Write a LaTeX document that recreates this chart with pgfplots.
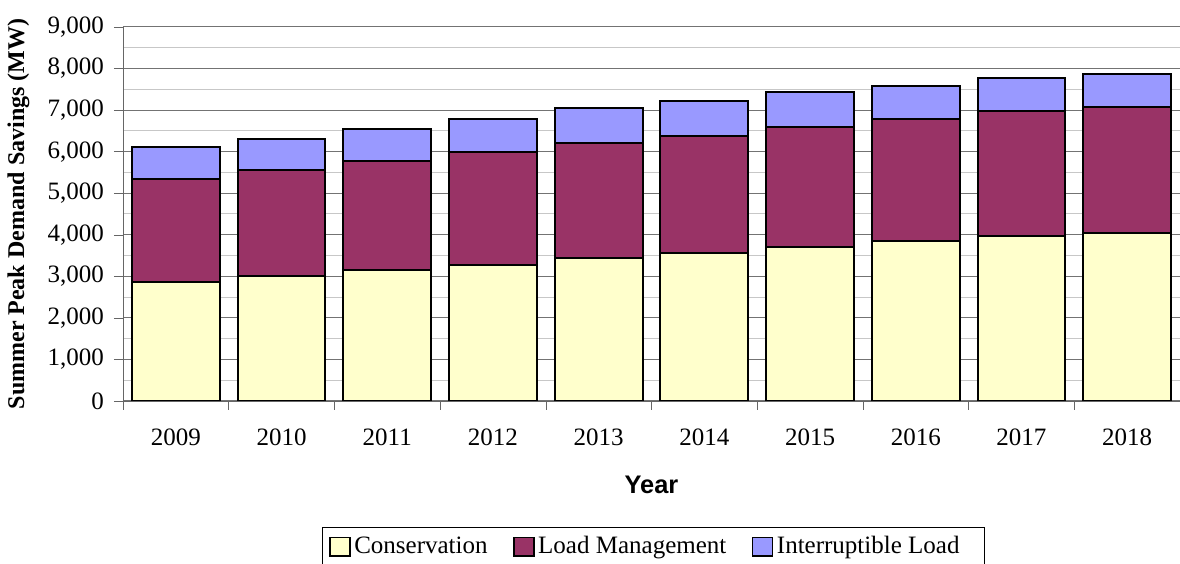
\documentclass[border=0pt]{standalone}
\usepackage{fontspec}
\setmainfont{Liberation Serif}
\newfontfamily\arialfont{Liberation Sans}
\usepackage{pgfplots}
\pgfplotsset{compat=1.18}
\definecolor{cons}{HTML}{FFFFCC}
\definecolor{lm}{HTML}{993366}
\definecolor{il}{HTML}{9999FF}
\begin{document}
\begin{tikzpicture}
\begin{axis}[
  name=ax,
  width=528.5pt, height=187pt, scale only axis,
  ybar stacked, bar width=0.83,
  xmin=-0.5, xmax=9.5, ymin=0, ymax=9000,
  axis x line*=bottom, axis y line*=left,
  axis line style={black!60},
  xtick={0,...,9},
  xticklabels={2009,2010,2011,2012,2013,2014,2015,2016,2017,2018},
  major x tick style={draw=none},
  minor xtick={-0.5,0.5,...,9.5},
  minor x tick style={black!60},
  ytick={0,1000,...,9000},
  minor ytick={500,1500,...,8500},
  minor y tick style={draw=none},
  major y tick style={black!60},
  tick align=outside,
  major tick length=4.5pt, minor tick length=4.5pt,
  ymajorgrids, yminorgrids,
  major grid style={black!55, line width=0.5pt},
  minor grid style={black!22, line width=0.5pt},
  /pgf/number format/assume math mode=true,
  /pgf/number format/1000 sep={,},
  ticklabel style={font=\fontsize{12.5}{15}\selectfont},
  xticklabel style={yshift=-6pt},
  yticklabel style={xshift=-1.5pt},
  ylabel={\fontsize{12}{14}\selectfont\bfseries Summer Peak Demand Savings (MW)},
  ylabel style={at={(axis description cs:-0.099,0.5)}, anchor=center},
  xlabel={\arialfont\fontsize{12.7}{15}\selectfont\bfseries Year},
  xlabel style={at={(axis description cs:0.5,-0.225)}, anchor=center},
  legend columns=3,
  legend style={at={(0.502,-0.337)}, anchor=north, draw=black, line width=0.6pt,
    font=\fontsize{12.5}{15}\selectfont, inner xsep=3.25pt, inner ysep=2.5pt,
    nodes={inner xsep=0.75pt, inner ysep=2pt},
    /tikz/every even column/.append style={column sep=12pt}},
  legend image code/.code={\draw[#1, draw=black, line width=0.8pt] (0pt,-4.7pt) rectangle (10pt,4.7pt);},
  every axis plot/.append style={draw=black, line width=1pt},
]
\addplot[fill=cons] coordinates {(0,2870) (1,3010) (2,3155) (3,3283) (4,3437) (5,3572) (6,3709) (7,3838) (8,3982) (9,4054)};
\addplot[fill=lm] coordinates {(0,2460) (1,2540) (2,2610) (3,2697) (4,2763) (5,2810) (6,2873) (7,2937) (8,2986) (9,3010)};
\addplot[fill=il] coordinates {(0,780) (1,755) (2,780) (3,795) (4,850) (5,836) (6,844) (7,804) (8,803) (9,804)};
\legend{\hspace{1pt}Conservation, \hspace{1pt}Load Management, \hspace{1pt}Interruptible Load\rule{8.5pt}{0pt}}
\end{axis}
\pgfresetboundingbox
\path ([xshift=-61.5pt,yshift=-81.5pt]ax.south west) rectangle ([yshift=13.5pt]ax.north east);
\end{tikzpicture}
\end{document}
